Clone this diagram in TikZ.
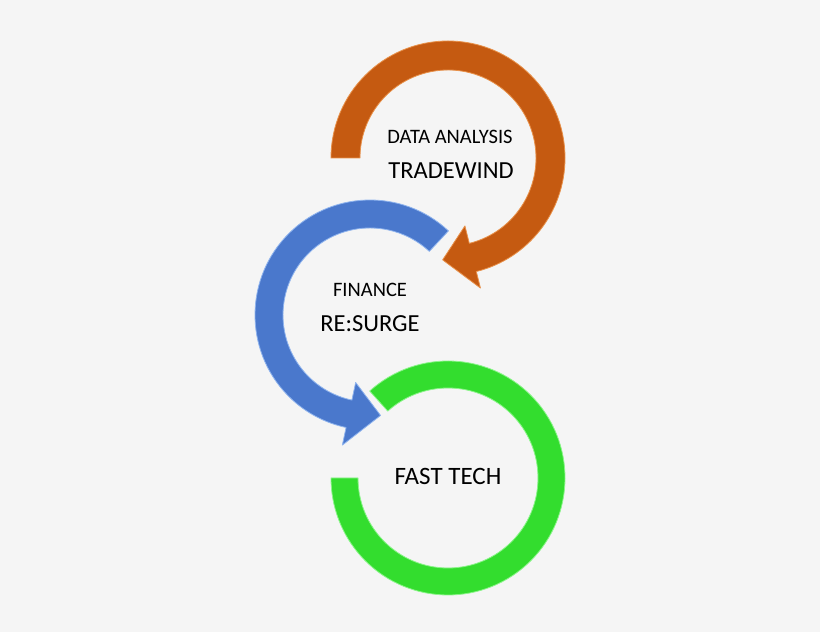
\documentclass[tikz,border=0pt]{standalone}
\usepackage{fontspec}
\setmainfont{Carlito}
\definecolor{bg}{HTML}{F5F5F5}
\definecolor{org}{HTML}{C55A11}
\definecolor{orgl}{HTML}{E8914A}
\definecolor{blu}{HTML}{4A78CC}
\definecolor{blul}{HTML}{8FB4EE}
\definecolor{grn}{HTML}{33DD2E}
\definecolor{grnl}{HTML}{8BF58A}
\begin{document}
\begin{tikzpicture}[x=1pt,y=1pt,
  band/.style={line width=0.8pt,line join=round},
  lbl/.style={inner sep=0pt,text=black}]
\fill[bg] (0,0) rectangle (820,632);
\useasboundingbox (0,0) rectangle (820,632);
% orange
\begin{scope}[shift={(448,474)}]
\filldraw[band,fill=org,draw=orgl] (180:117) arc[start angle=180,end angle=-76,radius=117]
  -- (-76:134) -- (-93:102) -- (-76:70) -- (-76:88) arc[start angle=-76,end angle=180,radius=88] -- cycle;
\end{scope}
% blue
\begin{scope}[shift={(370,317)}]
\filldraw[band,fill=blu,draw=blul] (47:115) arc[start angle=47,end angle=258,radius=115]
  -- (258:133) -- (276:101) -- (258:69) -- (258:87) arc[start angle=258,end angle=47,radius=87] -- cycle;
\end{scope}
% green
\begin{scope}[shift={(448,154)}]
\filldraw[band,fill=grn,draw=grnl] (132:117) arc[start angle=132,end angle=-180,radius=117]
  -- (180:90) arc[start angle=-180,end angle=132,radius=90] -- cycle;
\end{scope}
\node[lbl,font=\fontsize{20.5}{24}\selectfont] (da) at (450,495) {DATA ANALYSIS};
\node[lbl,font=\fontsize{24.5}{28}\selectfont] (tw) at (451,461) {TRADEWIND};
\node[lbl,font=\fontsize{20.5}{24}\selectfont] (fi) at (370,342) {FINANCE};
\node[lbl,font=\fontsize{24.5}{28}\selectfont] (rs) at (370,308) {RE:SURGE};
\node[lbl,font=\fontsize{25}{29}\selectfont] (ft) at (448,156) {FAST TECH};
\end{tikzpicture}
\end{document}
